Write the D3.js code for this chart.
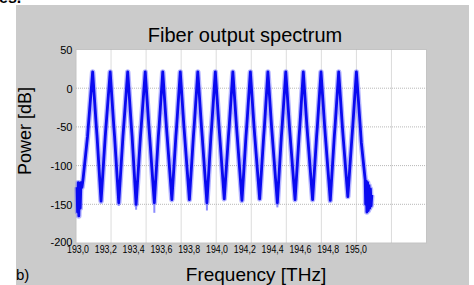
<!DOCTYPE html>
<html>
<head>
<meta charset="utf-8">
<script src="https://cdn.jsdelivr.net/npm/d3@7"></script>
<style>
  body { margin: 0; background: #fff; }
  svg { display: block; font-family: "Liberation Sans", Arial, sans-serif; }
</style>
</head>
<body>
<svg id="chart" width="474" height="285"></svg>
<script>
// Fiber output spectrum

var xTicks = [193.0, 193.2, 193.4, 193.6, 193.8, 194.0, 194.2, 194.4, 194.6, 194.8, 195.0];
var xTickLabels = ["193,0", "193,2", "193,4", "193,6", "193,8", "194,0", "194,2", "194,4", "194,6", "194,8", "195,0"];
var yTicks = [50, 0, -50, -100, -150, -200];

// trace vertices: [frequency THz, power dB]
var spectrum = [
  [193.006, -128], [193.009, -160], [193.013, -122], [193.016, -165], [193.020, -124],
  [193.024, -155], [193.028, -122], [193.034, -128], [193.040, -118],
  [193.066, -62], [193.070, -50], [193.095, 21],
  [193.116, -50], [193.120, -62], [193.143, -146], [193.167, -62], [193.171, -50], [193.195, 21],
  [193.216, -50], [193.220, -62], [193.244, -148], [193.268, -62], [193.272, -50], [193.295, 21],
  [193.316, -50], [193.320, -62], [193.343, -150], [193.368, -62], [193.372, -50], [193.395, 21],
  [193.416, -50], [193.420, -62], [193.447, -148], [193.470, -62], [193.474, -50], [193.495, 21],
  [193.516, -50], [193.520, -62], [193.547, -144], [193.570, -62], [193.574, -50], [193.595, 21],
  [193.616, -50], [193.620, -62], [193.647, -144], [193.670, -62], [193.674, -50], [193.695, 21],
  [193.716, -50], [193.720, -62], [193.747, -148], [193.770, -62], [193.774, -50], [193.795, 21],
  [193.816, -50], [193.820, -62], [193.846, -143], [193.870, -62], [193.874, -50], [193.895, 21],
  [193.916, -50], [193.920, -62], [193.947, -145], [193.970, -62], [193.974, -50], [193.995, 21],
  [194.016, -50], [194.020, -62], [194.048, -143], [194.071, -62], [194.075, -50], [194.095, 21],
  [194.116, -50], [194.120, -62], [194.149, -148], [194.172, -62], [194.176, -50], [194.197, 21],
  [194.218, -50], [194.222, -62], [194.250, -144], [194.273, -62], [194.277, -50], [194.297, 21],
  [194.318, -50], [194.322, -62], [194.350, -144], [194.373, -62], [194.377, -50], [194.398, 21],
  [194.419, -50], [194.423, -62], [194.451, -145], [194.474, -62], [194.478, -50], [194.499, 21],
  [194.520, -50], [194.524, -62], [194.551, -140], [194.575, -62], [194.579, -50], [194.600, 21],
  [194.622, -50], [194.628, -70], [194.650, -118],
  [194.653, -150], [194.656, -120], [194.660, -160], [194.664, -122], [194.668, -158],
  [194.672, -126], [194.676, -155], [194.680, -130], [194.684, -152], [194.688, -138]
];

// faint spikes hanging below some troughs: [frequency THz, trough dB, tip dB]
var tails = [
  [193.343, -150, -157], [193.447, -148, -161], [193.747, -148, -158],
  [194.149, -148, -154], [193.244, -148, -152]
];

///////////////////////////////////////////////////////////////////////////////
// Frame

var svg = d3.select("#chart");

svg.append("rect")
  .attr("x", 16).attr("y", 5).attr("width", 453).attr("height", 280)
  .attr("fill", "#cbcbcb");

// tail of the caption above the figure, cut by the crop
svg.append("text")
  .attr("x", -1).attr("y", 3)
  .style("font-size", "16px").style("font-weight", "bold")
  .text("es.");

var x = d3.scaleLinear().domain([193, 195]).range([76, 426.5]);
var y = d3.scaleLinear().domain([-200, 50]).range([243, 49.5]);

svg.append("rect")
  .attr("x", x(193)).attr("y", y(50))
  .attr("width", x(195) - x(193)).attr("height", y(-200) - y(50))
  .attr("fill", "#fff")
  .attr("stroke", "#c4c4c4").attr("stroke-width", 1);

// dotted grid
svg.append("g").selectAll("line.v")
  .data(xTicks.slice(1, -1))
  .join("line")
  .attr("x1", function (d) { return x(d); }).attr("x2", function (d) { return x(d); })
  .attr("y1", y(50)).attr("y2", y(-200))
  .attr("stroke", "#b8b8b8").attr("stroke-dasharray", "1,1");

svg.append("g").selectAll("line.h")
  .data(yTicks.slice(1, -1))
  .join("line")
  .attr("x1", x(193)).attr("x2", x(195))
  .attr("y1", function (d) { return y(d); }).attr("y2", function (d) { return y(d); })
  .attr("stroke", "#b8b8b8").attr("stroke-dasharray", "1,1");

///////////////////////////////////////////////////////////////////////////////
// Trace

var line = d3.line()
  .x(function (d) { return x(d[0]); })
  .y(function (d) { return y(d[1]); });

svg.append("path")
  .datum(spectrum)
  .attr("d", line)
  .attr("fill", "none")
  .attr("stroke", "#5a5aff").attr("stroke-opacity", 0.45)
  .attr("stroke-width", 5.5).attr("stroke-linejoin", "round");

svg.append("g").selectAll("line")
  .data(tails)
  .join("line")
  .attr("x1", function (d) { return x(d[0]); }).attr("x2", function (d) { return x(d[0]); })
  .attr("y1", function (d) { return y(d[1]); }).attr("y2", function (d) { return y(d[2]); })
  .attr("stroke", "#8c8cff").attr("stroke-width", 2);

svg.append("path")
  .datum(spectrum)
  .attr("d", line)
  .attr("fill", "none")
  .attr("stroke", "#0a0af0")
  .attr("stroke-width", 2.8).attr("stroke-linejoin", "round");

///////////////////////////////////////////////////////////////////////////////
// Axes and labels

// the tick labels in the figure sit on their own, tighter spacing
var xLabelPos = d3.scalePoint().domain(xTickLabels).range([77.5, 355.5]);

var xAxis = svg.append("g")
  .attr("transform", "translate(0,253)")
  .call(d3.axisBottom(xLabelPos).tickSize(0).tickPadding(0));
xAxis.select(".domain").remove();
xAxis.selectAll("text")
  .attr("y", 0).attr("dy", 0)
  .attr("fill", "#000")
  .attr("textLength", 22).attr("lengthAdjust", "spacingAndGlyphs")
  .style("font-size", "10.5px");

// plain hyphen minus, as printed in the figure
var yAxis = svg.append("g")
  .attr("transform", "translate(72.5,0)")
  .call(d3.axisLeft(y).tickValues(yTicks).tickSize(0).tickPadding(0)
    .tickFormat(function (d) { return String(d); }));
yAxis.select(".domain").remove();
yAxis.selectAll("text")
  .attr("x", 0)
  .attr("dy", function (d) { return d === -200 ? "0.2em" : "0.36em"; })
  .attr("fill", "#000")
  .style("font-size", "11px");

svg.append("text")
  .attr("x", 245).attr("y", 41.5)
  .attr("text-anchor", "middle")
  .style("font-size", "20px")
  .text("Fiber output spectrum");

svg.append("text")
  .attr("transform", "translate(31,131) rotate(-90)")
  .attr("text-anchor", "middle")
  .style("font-size", "18px")
  .text("Power [dB]");

svg.append("text")
  .attr("x", 256).attr("y", 281)
  .attr("text-anchor", "middle")
  .style("font-size", "19px")
  .text("Frequency [THz]");

svg.append("text")
  .attr("x", 16).attr("y", 280)
  .style("font-size", "15px")
  .text("b)");
</script>
</body>
</html>
